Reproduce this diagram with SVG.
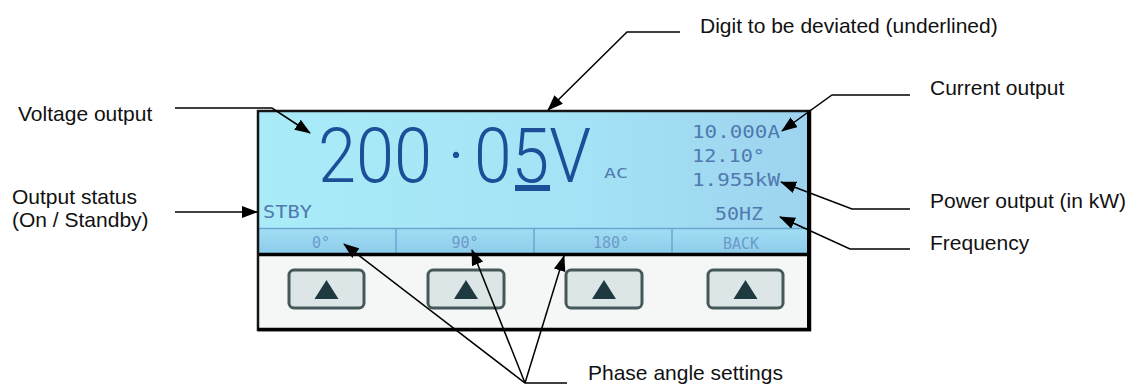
<svg xmlns="http://www.w3.org/2000/svg" width="1135" height="386" viewBox="0 0 1135 386">
<style>
.lbl{font-family:"Liberation Sans",Arial,sans-serif;font-size:21px;fill:#111}
.conn{fill:none;stroke:#000;stroke-width:1.5}
.lcd{font-family:"DejaVu Sans Mono",monospace;fill:#5079b0}
.tab{font-family:"DejaVu Sans Mono",monospace;font-size:15px;fill:#6d9bc9;text-anchor:middle}
.big{font-family:Roboto,"Liberation Sans",sans-serif;font-weight:300;font-size:76px;fill:#1d4f98}
.btn{fill:#dde6e6;stroke:#46595a;stroke-width:3}
.tri{fill:#1f3940}
</style>
<defs>
<linearGradient id="lcdg" x1="0" y1="0" x2="1" y2="0">
<stop offset="0" stop-color="#a9ecf8"/>
<stop offset="0.6" stop-color="#a4e2f5"/>
<stop offset="1" stop-color="#9dd3ee"/>
</linearGradient>
<linearGradient id="tabg" x1="0" y1="0" x2="0" y2="1">
<stop offset="0" stop-color="#a2def4"/>
<stop offset="1" stop-color="#8ccbea"/>
</linearGradient>
<marker id="ah" markerUnits="userSpaceOnUse" markerWidth="16" markerHeight="12" viewBox="0 0 16 12" refX="15" refY="6" orient="auto">
<path d="M0,0 L16,6 L0,12 z" fill="#000"/>
</marker>
</defs>
<rect width="1135" height="386" fill="#fff"/>

<g id="panel">
<rect x="258" y="111" width="552" height="143" fill="url(#lcdg)"/>
<rect x="258" y="228" width="552" height="26" fill="url(#tabg)"/>
<line x1="258" y1="228.5" x2="810" y2="228.5" stroke="#6aa6d2" stroke-width="1.5"/>
<line x1="396" y1="228" x2="396" y2="254" stroke="#6aa6d2" stroke-width="1.5"/>
<line x1="534" y1="228" x2="534" y2="254" stroke="#6aa6d2" stroke-width="1.5"/>
<line x1="672" y1="228" x2="672" y2="254" stroke="#6aa6d2" stroke-width="1.5"/>
<rect x="258" y="255" width="552" height="75" fill="#f5f7f7"/>
<line x1="258" y1="254.5" x2="810" y2="254.5" stroke="#000" stroke-width="3.5"/>
<rect x="258" y="111" width="552" height="219" fill="none" stroke="#151515" stroke-width="2.5"/>
<line x1="809" y1="111" x2="809" y2="331" stroke="#000" stroke-width="4"/>
<line x1="258" y1="329.5" x2="811" y2="329.5" stroke="#000" stroke-width="3.5"/>

<text class="big" x="318" y="182" textLength="114" lengthAdjust="spacingAndGlyphs">200</text>
<text class="big" x="456" y="182" text-anchor="middle">·</text>
<text class="big" x="474" y="182" textLength="117" lengthAdjust="spacingAndGlyphs">05V</text>
<rect x="515" y="185" width="35" height="6" fill="#1d4f98"/>
<text class="lcd" x="604" y="178" font-size="14" textLength="24" lengthAdjust="spacingAndGlyphs">AC</text>
<text class="lcd" x="692" y="138" font-size="18" textLength="88" lengthAdjust="spacingAndGlyphs">10.000A</text>
<text class="lcd" x="692" y="162" font-size="18" textLength="73" lengthAdjust="spacingAndGlyphs">12.10°</text>
<text class="lcd" x="692" y="186" font-size="18" textLength="88" lengthAdjust="spacingAndGlyphs">1.955kW</text>
<text class="lcd" x="715" y="220" font-size="18" textLength="48" lengthAdjust="spacingAndGlyphs">50HZ</text>
<text class="lcd" x="263" y="218" font-size="18" textLength="49" lengthAdjust="spacingAndGlyphs">STBY</text>
<text class="tab" x="321" y="248">0°</text>
<text class="tab" x="465" y="248">90°</text>
<text class="tab" x="611" y="248">180°</text>
<text class="tab" x="741" y="249">BACK</text>

<rect class="btn" x="289" y="270" width="75" height="38" rx="5"/>
<rect class="btn" x="428" y="270" width="76" height="38" rx="5"/>
<rect class="btn" x="566" y="270" width="76" height="38" rx="5"/>
<rect class="btn" x="708" y="270" width="75" height="38" rx="5"/>
<path class="tri" d="M314.5,299 L326.5,280 L338.5,299 z"/>
<path class="tri" d="M454,299 L466,280 L478,299 z"/>
<path class="tri" d="M592,299 L604,280 L616,299 z"/>
<path class="tri" d="M733.5,299 L745.5,280 L757.5,299 z"/>
</g>

<g id="labels">
<text class="lbl" x="18" y="121">Voltage output</text>
<text class="lbl" x="700" y="33">Digit to be deviated (underlined)</text>
<text class="lbl" x="930" y="95">Current output</text>
<text class="lbl" x="12" y="204">Output status</text>
<text class="lbl" x="12" y="227">(On / Standby)</text>
<text class="lbl" x="930" y="208">Power output (in kW)</text>
<text class="lbl" x="930" y="250">Frequency</text>
<text class="lbl" x="588" y="380">Phase angle settings</text>
</g>

<g id="connectors">
<path class="conn" d="M175,108 L272,108 L310,133" marker-end="url(#ah)"/>
<path class="conn" d="M680,32 L627,32 L548,110" marker-end="url(#ah)"/>
<path class="conn" d="M910,95 L832,95 L782,131" marker-end="url(#ah)"/>
<path class="conn" d="M910,209 L852,209 L781,182" marker-end="url(#ah)"/>
<path class="conn" d="M910,249 L850,249 L780,217" marker-end="url(#ah)"/>
<path class="conn" d="M175,212 L257,212" marker-end="url(#ah)"/>
<path class="conn" d="M567,383 L525,383 L344,244" marker-end="url(#ah)"/>
<path class="conn" d="M525,383 L472,250" marker-end="url(#ah)"/>
<path class="conn" d="M525,383 L564,256" marker-end="url(#ah)"/>
</g>
</svg>
